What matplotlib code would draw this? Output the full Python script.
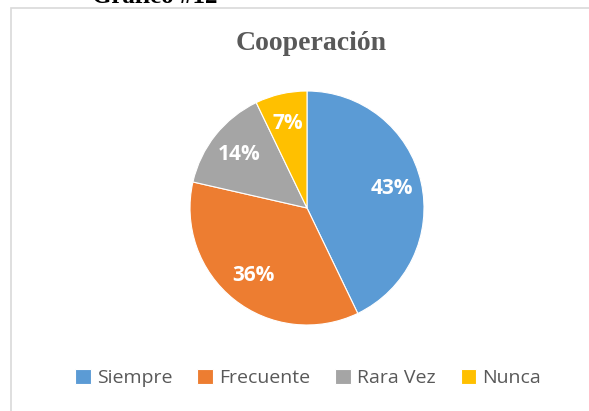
import matplotlib.pyplot as plt
from matplotlib.patches import Rectangle

# Cooperación: 14 answers
categories = ["Siempre", "Frecuente", "Rara Vez", "Nunca"]
counts = [6, 5, 2, 1]
colors = ["#5B9BD5", "#ED7D31", "#A5A5A5", "#FFC000"]

W, H = 589, 411
fig = plt.figure(figsize=(W / 100, H / 100), dpi=100)
fig.patch.set_facecolor("white")

# chart frame (Excel chart area)
fig.patches.append(Rectangle((10.5 / W, -0.01), 1.0, 1 - 8 / H + 0.01,
                             transform=fig.transFigure, fill=False,
                             edgecolor="#D9D9D9", linewidth=1.2))

# caption cut off at the top
fig.text(92 / W, 1 - 3 / H, "Gráfico #12", fontsize=18, fontweight="bold",
         family="Liberation Serif", color="black", ha="left", va="baseline")

fig.text(311 / W, 1 - 44 / H, "Cooperación", fontsize=20, fontweight="bold",
         family="Liberation Serif", color="#595959", ha="center", va="center")

cx, cy, r = 307, 208, 117
ax = fig.add_axes([(cx - r) / W, (H - cy - r) / H, 2 * r / W, 2 * r / H])
wedges, texts, autotexts = ax.pie(
    counts, colors=colors, startangle=90, counterclock=False,
    autopct="%.0f%%", pctdistance=0.74,
    wedgeprops=dict(edgecolor="white", linewidth=0.8),
    textprops=dict(color="white", fontsize=15, fontweight="bold",
                   family="Open Sans"))
ax.set_xlim(-1, 1)
ax.set_ylim(-1, 1)
ax.set_aspect("equal")

leg = fig.legend(wedges, categories, loc="center", bbox_to_anchor=(308 / W, 1 - 378 / H),
                 ncol=4, frameon=False, handlelength=0.8, handleheight=0.8,
                 handletextpad=0.3, columnspacing=1.3,
                 prop=dict(family="Open Sans", size=14))
for t in leg.get_texts():
    t.set_color("#595959")

plt.savefig("out.png", dpi=100)
plt.close(fig)
